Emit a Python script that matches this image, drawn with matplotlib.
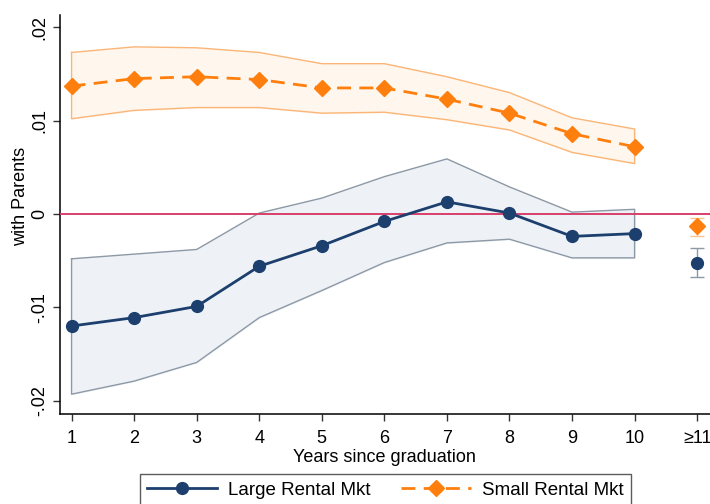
import matplotlib
matplotlib.use("Agg")
import matplotlib.pyplot as plt
from matplotlib.lines import Line2D

plt.rcParams['font.family'] = ['Liberation Sans', 'DejaVu Sans']

years = [1, 2, 3, 4, 5, 6, 7, 8, 9, 10]
tick_labels = ["1", "2", "3", "4", "5", "6", "7", "8", "9", "10", "≥11"]

large = [-0.0120, -0.0111, -0.0099, -0.0056, -0.0034, -0.0008, 0.0013, 0.0001, -0.0024, -0.0021]
large_hi = [-0.0048, -0.0043, -0.0038, 0.0001, 0.0017, 0.0040, 0.0059, 0.0029, 0.0002, 0.0005]
large_lo = [-0.0193, -0.0179, -0.0159, -0.0111, -0.0082, -0.0052, -0.0031, -0.0027, -0.0047, -0.0047]

small = [0.0137, 0.0145, 0.0147, 0.0144, 0.0135, 0.0135, 0.0123, 0.0108, 0.0086, 0.0072]
small_hi = [0.0173, 0.0179, 0.0178, 0.0173, 0.0161, 0.0161, 0.0147, 0.0130, 0.0103, 0.0091]
small_lo = [0.0102, 0.0111, 0.0114, 0.0114, 0.0108, 0.0109, 0.0101, 0.0090, 0.0066, 0.0054]

large_11 = -0.0052
large_11_ci = (-0.0067, -0.0036)
small_11 = -0.0013
small_11_ci = (-0.0024, -0.0004)

navy = "#1c3f6e"
orange = "#ff7f0e"
red = "#d8406a"

fig = plt.figure(figsize=(7.1, 5.04), dpi=100)
ax = fig.add_axes([0.0845, 0.179, 0.915, 0.791])

# CI bands
ax.fill_between(years, large_lo, large_hi, color="#eef2f7", zorder=1)
ax.plot(years + [years[-1]] + years[::-1] + [years[0]],
        large_hi + [large_lo[-1]] + large_lo[::-1] + [large_hi[0]],
        color="#8e99a6", lw=1.0, zorder=2)
ax.fill_between(years, small_lo, small_hi, color="#fff6ee", zorder=1)
ax.plot(years + [years[-1]] + years[::-1] + [years[0]],
        small_hi + [small_lo[-1]] + small_lo[::-1] + [small_hi[0]],
        color="#fbb677", lw=1.0, zorder=2)

ax.axhline(0, color=red, lw=1.4, zorder=3)

ax.plot(years, large, color=navy, lw=2.0, marker="o", ms=8.5, zorder=5)
ax.plot(years, small, color=orange, lw=2.0, ls=(0, (5, 3)), marker="D", ms=8.5, zorder=5)

# >=11 points
ax.errorbar([11], [large_11], yerr=[[large_11 - large_11_ci[0]], [large_11_ci[1] - large_11]],
            fmt="o", color=navy, ms=8.5, ecolor="#8e99a6", elinewidth=1.0, capsize=5, zorder=5)
ax.errorbar([11], [small_11], yerr=[[small_11 - small_11_ci[0]], [small_11_ci[1] - small_11]],
            fmt="D", color=orange, ms=8, ecolor="#fbc48f", elinewidth=1.0, capsize=5, zorder=5)

ax.set_xlim(0.815, 11.2)
ax.set_ylim(-0.0214, 0.0213)
ax.set_xticks(list(range(1, 12)))
ax.set_xticklabels(tick_labels, fontsize=13)
ax.set_yticks([-0.02, -0.01, 0, 0.01, 0.02])
ax.set_yticklabels(["-.02", "-.01", "0", ".01", ".02"], fontsize=13, rotation=90, va="center")
ax.tick_params(axis="both", length=5, width=1, color="#333333")
ax.tick_params(axis="x", pad=7)
ax.spines["top"].set_visible(False)
ax.spines["right"].set_visible(False)
ax.spines["left"].set_linewidth(1.1)
ax.spines["bottom"].set_linewidth(1.1)

ax.set_xlabel("Years since graduation", fontsize=13, labelpad=1)
fig.text(0.029, 0.61, "with Parents", rotation=90, fontsize=13, ha="center", va="center")

handles = [
    Line2D([], [], color=navy, lw=2.0, marker="o", ms=8.5),
    Line2D([], [], color=orange, lw=2.0, ls=(0, (5, 3)), marker="D", ms=8.5),
]
leg = fig.legend(handles, ["Large Rental Mkt", "Small Rental Mkt"], loc="upper center",
                 bbox_to_anchor=(0.543, 0.078), ncol=2, fontsize=13.5, frameon=True,
                 fancybox=False, edgecolor="#333333", handlelength=3.7, handletextpad=0.6,
                 columnspacing=1.65, borderpad=0.4)
leg.get_frame().set_linewidth(1.0)

fig.savefig("out.png", dpi=100)
